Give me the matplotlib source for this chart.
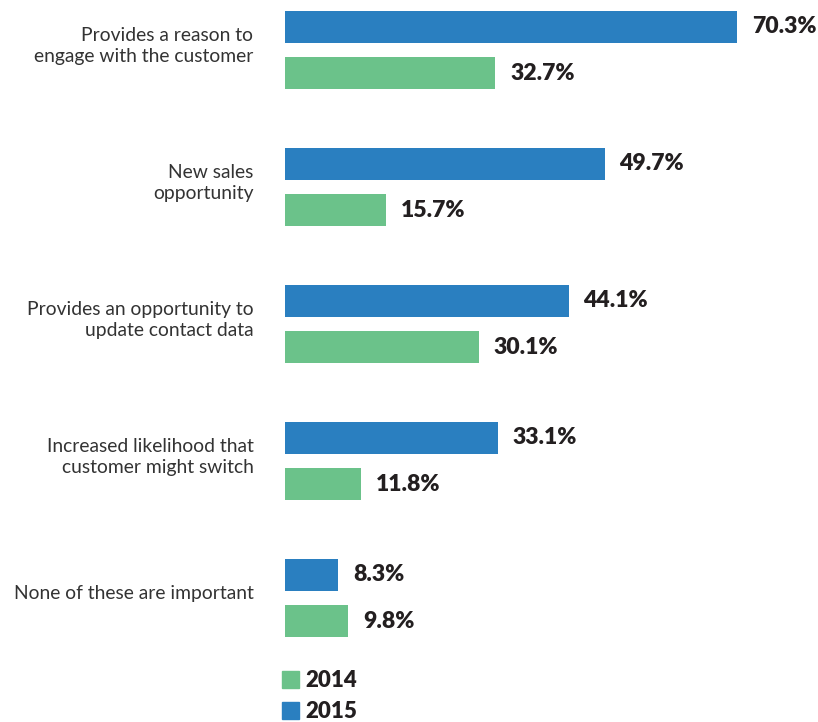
import matplotlib.pyplot as plt
from matplotlib.patches import Patch
import numpy as np

categories = [
    "Provides a reason to\nengage with the customer",
    "New sales\nopportunity",
    "Provides an opportunity to\nupdate contact data",
    "Increased likelihood that\ncustomer might switch",
    "None of these are important",
]
values_2015 = [70.3, 49.7, 44.1, 33.1, 8.3]
values_2014 = [32.7, 15.7, 30.1, 11.8, 9.8]

BLUE = "#2a7fc0"
GREEN = "#6bc28a"
TEXT = "#333333"
DARK = "#231f20"

plt.rcParams['font.family'] = ['Lato', 'DejaVu Sans']

fig = plt.figure(figsize=(8.18, 7.22), dpi=100)
ax = fig.add_axes([285 / 818, 0, 533 / 818, 1])

y = np.arange(len(categories))
off = 0.168
h = 0.234
ax.barh(y - off, values_2015, height=h, color=BLUE, label="2015")
ax.barh(y + off, values_2014, height=h, color=GREEN, label="2014")

for yi, v in zip(y, values_2015):
    ax.text(v + 2.3, yi - off, f"{v:.1f}%", va="center", ha="left",
            fontsize=16.6, fontweight="heavy", color=DARK)
for yi, v in zip(y, values_2014):
    ax.text(v + 2.3, yi + off, f"{v:.1f}%", va="center", ha="left",
            fontsize=16.6, fontweight="heavy", color=DARK)

# category labels to the left of the bars
for yi, c in zip(y, categories):
    ax.text(-4.9, yi - 0.03, c, va="center", ha="right", fontsize=13.9,
            color=TEXT, linespacing=1.25, clip_on=False)

ax.set_xlim(0, 533 / 6.43)
ax.set_ylim((722 - 50) / 137, -50 / 137)
ax.axis("off")

handles = [Patch(color=GREEN, label="2014"), Patch(color=BLUE, label="2015")]
fig.legend(handles=handles, loc="upper left",
           bbox_to_anchor=(282 / 818, 1 - 670 / 722), frameon=False,
           handlelength=0.75, handleheight=0.8, handletextpad=0.3,
           labelspacing=0.45, borderpad=0, borderaxespad=0,
           prop={"size": 16, "weight": "heavy"}, labelcolor=DARK)

fig.savefig("out.png", dpi=100)
